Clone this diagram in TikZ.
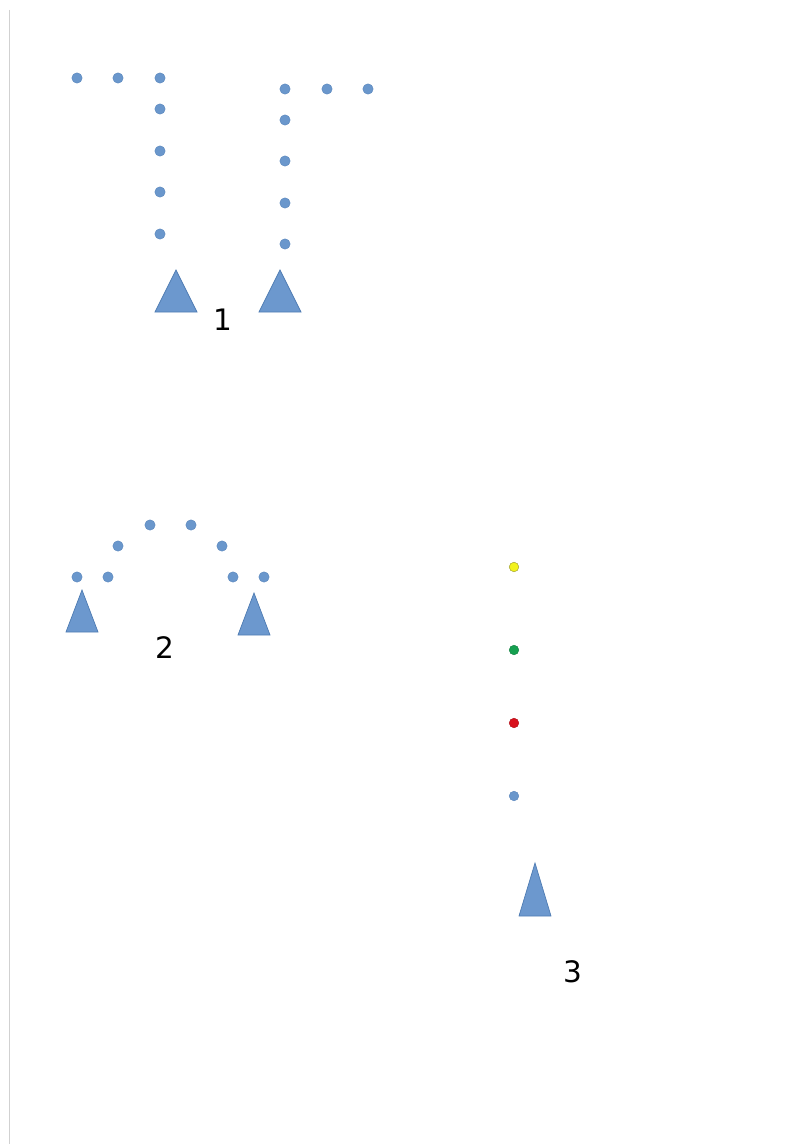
\documentclass[tikz,border=0pt]{standalone}
\usepackage{fontspec}
\setmainfont{DejaVu Sans}
\usepackage{xcolor}
\usetikzlibrary{positioning}
\definecolor{dotblue}{HTML}{6A97CC}
\definecolor{dotedge}{HTML}{5A86BC}
\definecolor{triblue}{HTML}{6C98CE}
\definecolor{triedge}{HTML}{4F7CB3}
\definecolor{dotyellow}{HTML}{F2F21E}
\definecolor{yedge}{HTML}{9A9A30}
\definecolor{dotgreen}{HTML}{15A050}
\definecolor{dotred}{HTML}{D8101C}

\begin{document}
\begin{tikzpicture}[
x=0.25mm, y=-0.25mm,
dot/.style={circle, fill=dotblue, draw=dotedge, line width=0.3pt, inner sep=0pt, minimum size=2.6mm},
sdot/.style={dot, minimum size=2.4mm},
tri/.style={fill=triblue, draw=triedge, line width=0.5pt},
lbl/.style={font=\fontsize{21}{24}\selectfont, inner sep=0pt}
]
\useasboundingbox (0,0) rectangle (798,1144);
\draw[color=black!18, line width=1.4pt] (9.5,10) -- (9.5,1144);

% figure 1, left arm
\node[dot] (a1) at (77,78) {};
\node[dot] (a2) at (118,78) {};
\node[dot] (a3) at (160,78) {};
\node[dot] (a4) at (160,109) {};
\node[dot] (a5) at (160,151) {};
\node[dot] (a6) at (160,192) {};
\node[dot] (a7) at (160,234) {};
\fill[tri] (155,312) -- (176,270) -- (197,312) -- cycle;

% figure 1, right arm
\node[dot] (b1) at (285,89) {};
\node[dot] (b2) at (327,89) {};
\node[dot] (b3) at (368,89) {};
\node[dot] (b4) at (285,120) {};
\node[dot] (b5) at (285,161) {};
\node[dot] (b6) at (285,203) {};
\node[dot] (b7) at (285,244) {};
\fill[tri] (259,312) -- (280,270) -- (301,312) -- cycle;
\node[lbl] (one) at (223,320) {1};

% figure 2, arch
\node[dot] (c1) at (77,577) {};
\node[dot] (c2) at (108,577) {};
\node[dot] (c3) at (118,546) {};
\node[dot] (c4) at (150,525) {};
\node[dot] (c5) at (191,525) {};
\node[dot] (c6) at (222,546) {};
\node[dot] (c7) at (233,577) {};
\node[dot] (c8) at (264,577) {};
\fill[tri] (66,632) -- (82,590) -- (98,632) -- cycle;
\fill[tri] (238,635) -- (254,593) -- (270,635) -- cycle;
\node[lbl] (two) at (165,648) {2};

% figure 3, column
\node[sdot, fill=dotyellow, draw=yedge] (d1) at (514,567) {};
\node[sdot, fill=dotgreen, draw=dotgreen!80!black] (d2) at (514,650) {};
\node[sdot, fill=dotred, draw=dotred!80!black] (d3) at (514,723) {};
\node[sdot] (d4) at (514,796) {};
\fill[tri] (519,916) -- (535,863) -- (551,916) -- cycle;
\node[lbl] (three) at (573,972) {3};
\end{tikzpicture}
\end{document}
